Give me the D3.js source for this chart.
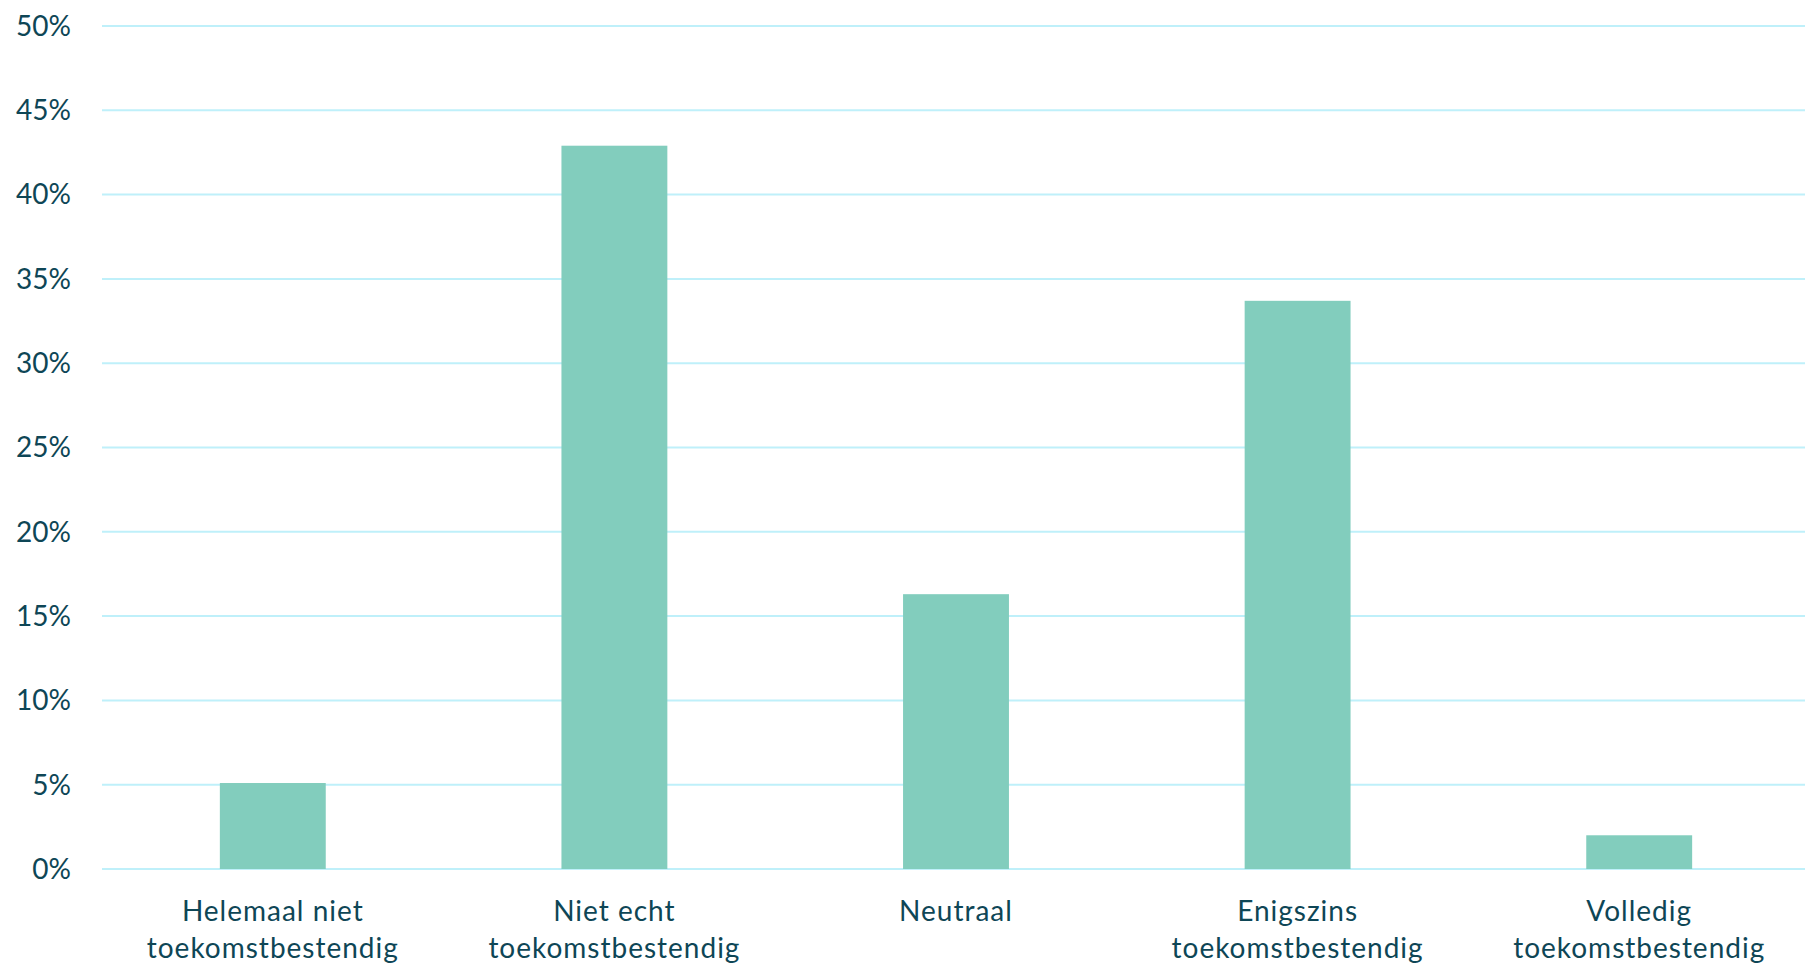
<!DOCTYPE html>
<html>
<head>
<meta charset="utf-8">
<script src="https://cdn.jsdelivr.net/npm/d3@7"></script>
<style>
  html, body { margin: 0; padding: 0; background: #fff; }
  svg { display: block; }
</style>
</head>
<body>
<div id="chart"><svg></svg></div>
<script>
// data
var categories = [
  ["Helemaal niet", "toekomstbestendig"],
  ["Niet echt", "toekomstbestendig"],
  ["Neutraal"],
  ["Enigszins", "toekomstbestendig"],
  ["Volledig", "toekomstbestendig"]
]
var values = [5.1, 42.9, 16.3, 33.7, 2.0]
var yTicks = [0, 5, 10, 15, 20, 25, 30, 35, 40, 45, 50]

var width = 1805
var height = 967
var margin = {top: 26, right: -5, bottom: 98, left: 102}

const svg = d3.select("#chart svg")
  .attr("width", width)
  .attr("height", height)

var x = d3.scaleBand()
  .domain(d3.range(categories.length))
  .range([margin.left, width - margin.right])
  .padding(0)

var y = d3.scaleLinear()
  .domain([0, 50])
  .range([height - margin.bottom, margin.top])

var barW = x.bandwidth() * 0.31

// gridlines
svg.append("g")
  .selectAll("line")
  .data(yTicks)
  .join("line")
  .attr("x1", margin.left)
  .attr("x2", width)
  .attr("y1", d => y(d))
  .attr("y2", d => y(d))
  .style("stroke", "#bff0fa")
  .style("stroke-width", 2)

// y labels
svg.append("g")
  .selectAll("text")
  .data(yTicks)
  .join("text")
  .attr("x", 71)
  .attr("y", d => y(d))
  .attr("dy", "0.35em")
  .attr("text-anchor", "end")
  .text(d => d + "%")
  .style("font-family", "Lato, 'Open Sans', sans-serif")
  .style("font-size", "28px")
  .style("fill", "#0e4656")

// bars
svg.append("g")
  .selectAll("rect")
  .data(values)
  .join("rect")
  .attr("x", (d, i) => x(i) + (x.bandwidth() - barW) / 2)
  .attr("width", barW)
  .attr("y", d => y(d))
  .attr("height", d => y(0) - y(d))
  .style("fill", "#82cdbd")

// x labels
var labels = svg.append("g")
  .selectAll("text")
  .data(categories)
  .join("text")
  .attr("text-anchor", "middle")
  .style("font-family", "Lato, 'Open Sans', sans-serif")
  .style("font-size", "28px")
  .style("letter-spacing", "1px")
  .style("fill", "#0e4656")

labels.selectAll("tspan")
  .data((d, i) => d.map(t => ({text: t, i: i})))
  .join("tspan")
  .attr("x", d => x(d.i) + x.bandwidth() / 2)
  .attr("y", (d, j) => 921 + j * 37)
  .text(d => d.text)
</script>
</body>
</html>
